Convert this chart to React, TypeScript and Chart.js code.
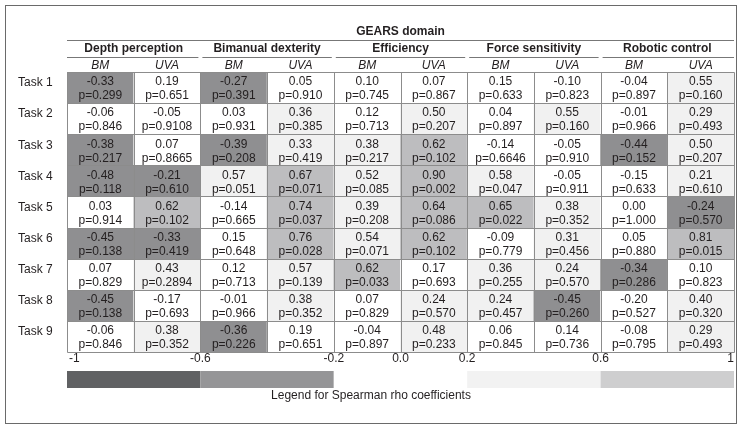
import React, { useEffect, useRef } from "react";
import { Chart, registerables } from "chart.js";
Chart.register(...registerables);

const tasks = ["Task 1", "Task 2", "Task 3", "Task 4", "Task 5", "Task 6", "Task 7", "Task 8", "Task 9"];
const domains = ["Depth perception", "Bimanual dexterity", "Efficiency", "Force sensitivity", "Robotic control"];
const groups = ["BM", "UVA"];
const title = "GEARS domain";
const legendCaption = "Legend for Spearman rho coefficients";

const rho: number[][] = [
  [-0.33, 0.19, -0.27, 0.05, 0.1, 0.07, 0.15, -0.1, -0.04, 0.55],
  [-0.06, -0.05, 0.03, 0.36, 0.12, 0.5, 0.04, 0.55, -0.01, 0.29],
  [-0.38, 0.07, -0.39, 0.33, 0.38, 0.62, -0.14, -0.05, -0.44, 0.5],
  [-0.48, -0.21, 0.57, 0.67, 0.52, 0.9, 0.58, -0.05, -0.15, 0.21],
  [0.03, 0.62, -0.14, 0.74, 0.39, 0.64, 0.65, 0.38, 0.0, -0.24],
  [-0.45, -0.33, 0.15, 0.76, 0.54, 0.62, -0.09, 0.31, 0.05, 0.81],
  [0.07, 0.43, 0.12, 0.57, 0.62, 0.17, 0.36, 0.24, -0.34, 0.1],
  [-0.45, -0.17, -0.01, 0.38, 0.07, 0.24, 0.24, -0.45, -0.2, 0.4],
  [-0.06, 0.38, -0.36, 0.19, -0.04, 0.48, 0.06, 0.14, -0.08, 0.29],
];

const pvals: string[][] = [
  ["0.299", "0.651", "0.391", "0.910", "0.745", "0.867", "0.633", "0.823", "0.897", "0.160"],
  ["0.846", "0.9108", "0.931", "0.385", "0.713", "0.207", "0.897", "0.160", "0.966", "0.493"],
  ["0.217", "0.8665", "0.208", "0.419", "0.217", "0.102", "0.6646", "0.910", "0.152", "0.207"],
  ["0.118", "0.610", "0.051", "0.071", "0.085", "0.002", "0.047", "0.911", "0.633", "0.610"],
  ["0.914", "0.102", "0.665", "0.037", "0.208", "0.086", "0.022", "0.352", "1.000", "0.570"],
  ["0.138", "0.419", "0.648", "0.028", "0.071", "0.102", "0.779", "0.456", "0.880", "0.015"],
  ["0.829", "0.2894", "0.713", "0.139", "0.033", "0.693", "0.255", "0.570", "0.286", "0.823"],
  ["0.138", "0.693", "0.966", "0.352", "0.829", "0.570", "0.457", "0.260", "0.527", "0.320"],
  ["0.846", "0.352", "0.226", "0.651", "0.897", "0.233", "0.845", "0.736", "0.795", "0.493"],
];

const legendBreaks = [-1, -0.6, -0.2, 0.2, 0.6, 1];
const legendTickValues = [-1, -0.6, -0.2, 0, 0.2, 0.6, 1];
const legendTickLabels = ["-1", "-0.6", "-0.2", "0.0", "0.2", "0.6", "1"];
const legendColors = ["#606163", "#959597", "#ffffff", "#f2f2f2", "#cececf"];
const cellColors = ["#6c6c6e", "#8f8f91", "#ffffff", "#f1f1f1", "#bdbdbf"];

const FONT = "'Liberation Sans', Arial, Helvetica, sans-serif";
const TEXT = "#231f20";

function cellColor(v: number): string {
  const e = 1e-9;
  if (v < legendBreaks[1] - e) return cellColors[0];
  if (v < legendBreaks[2] - e) return cellColors[1];
  if (v < legendBreaks[3] - e) return cellColors[2];
  if (v < legendBreaks[4] - e) return cellColors[3];
  return cellColors[4];
}

const columns: string[] = [];
domains.forEach((d) => groups.forEach((g) => columns.push(d + " " + g)));

const overlay = {
  id: "overlay",
  afterDatasetsDraw(chart: any) {
    const ctx: CanvasRenderingContext2D = chart.ctx;
    const area = chart.chartArea;
    const xs = chart.scales.x;
    const ys = chart.scales.y;
    const nCol = columns.length;
    const colW = (area.right - area.left) / nCol;
    ctx.save();

    // grid lines
    ctx.strokeStyle = "#8c8c8c";
    ctx.lineWidth = 1;
    ctx.beginPath();
    for (let j = 0; j <= nCol; j++) {
      const x = Math.round(area.left + j * colW) + 0.5;
      ctx.moveTo(x, Math.round(ys.getPixelForValue(0)) + 0.5);
      ctx.lineTo(x, Math.round(ys.getPixelForValue(tasks.length)) + 0.5);
    }
    for (let r = 0; r <= tasks.length; r++) {
      const y = Math.round(ys.getPixelForValue(r)) + 0.5;
      ctx.moveTo(Math.round(area.left) + 0.5, y);
      ctx.lineTo(Math.round(area.right) + 0.5, y);
    }
    ctx.stroke();

    // cell text
    ctx.fillStyle = TEXT;
    ctx.textAlign = "center";
    ctx.textBaseline = "middle";
    ctx.font = `12px ${FONT}`;
    for (let r = 0; r < tasks.length; r++) {
      const cy = ys.getPixelForValue(r + 0.5);
      for (let j = 0; j < nCol; j++) {
        const cx = xs.getPixelForValue(j);
        ctx.fillText(rho[r][j].toFixed(2), cx, cy - 5.5);
        ctx.fillText("p=" + pvals[r][j], cx, cy + 8.5);
      }
      ctx.textAlign = "left";
      ctx.fillText(tasks[r], 18, cy - 4.5);
      ctx.textAlign = "center";
    }

    // headers
    const midX = (area.left + area.right) / 2;
    ctx.font = `bold 12px ${FONT}`;
    ctx.fillText(title, midX, 32);
    ctx.strokeStyle = "#777777";
    ctx.beginPath();
    ctx.moveTo(area.left, 40.5);
    ctx.lineTo(area.right, 40.5);
    ctx.stroke();
    domains.forEach((d, i) => {
      const gl = area.left + i * 2 * colW;
      const gr = gl + 2 * colW;
      ctx.font = `bold 12px ${FONT}`;
      ctx.fillText(d, (gl + gr) / 2, 49);
      ctx.beginPath();
      ctx.moveTo(gl + (i === 0 ? 0 : 2), 57.5);
      ctx.lineTo(gr - (i === domains.length - 1 ? 0 : 2), 57.5);
      ctx.stroke();
      groups.forEach((g, k) => {
        ctx.font = `italic 12px ${FONT}`;
        ctx.fillText(g, xs.getPixelForValue(i * 2 + k), 65.5);
      });
    });

    // legend bar
    const lx = (v: number) => area.left + ((v + 1) / 2) * (area.right - area.left);
    const barTop = 371;
    const barH = 17;
    for (let i = 0; i < legendColors.length; i++) {
      ctx.fillStyle = legendColors[i];
      ctx.fillRect(lx(legendBreaks[i]), barTop, lx(legendBreaks[i + 1]) - lx(legendBreaks[i]), barH);
    }
    ctx.fillStyle = TEXT;
    ctx.font = `12px ${FONT}`;
    legendTickValues.forEach((v, i) => {
      const x = lx(v);
      ctx.textAlign = i === 0 ? "left" : i === legendTickValues.length - 1 ? "right" : "center";
      ctx.fillText(legendTickLabels[i], x + (i === 0 ? 2 : 0), 359);
    });
    ctx.textAlign = "center";
    ctx.fillText(legendCaption, chart.width / 2, 396);

    // outer frame
    ctx.strokeStyle = "#6a6a6a";
    ctx.strokeRect(5.5, 5.5, chart.width - 11, chart.height - 10);
    ctx.restore();
  },
};

export default function App() {
  const ref = useRef<HTMLCanvasElement | null>(null);
  useEffect(() => {
    if (!ref.current) return;
    const chart = new Chart(ref.current, {
      type: "bar",
      data: {
        labels: columns,
        datasets: tasks.map((t, r) => ({
          label: t,
          data: rho[r].map(() => [r, r + 1]) as any,
          backgroundColor: rho[r].map(cellColor),
          borderWidth: 0,
          borderSkipped: false,
          grouped: false,
          barPercentage: 1,
          categoryPercentage: 1,
        })),
      },
      options: {
        animation: false,
        responsive: true,
        maintainAspectRatio: false,
        layout: { padding: { left: 67, right: 8, top: 72, bottom: 76 } },
        plugins: { legend: { display: false }, tooltip: { enabled: false } },
        scales: {
          x: { type: "category", display: false },
          y: { type: "linear", display: false, min: 0, max: tasks.length, reverse: true },
        },
      },
      plugins: [overlay],
    });
    return () => chart.destroy();
  }, []);
  return (
    <div style={{ position: "fixed", left: 0, top: 0, width: 742, height: 428, background: "#fff" }}>
      <canvas ref={ref} />
    </div>
  );
}
